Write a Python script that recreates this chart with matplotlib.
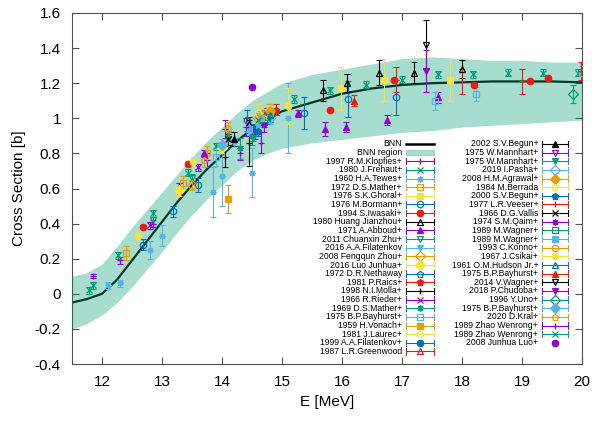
import matplotlib.pyplot as plt

plt.rcParams['font.family'] = ['Liberation Sans', 'DejaVu Sans']

# BNN evaluation and its uncertainty band
bnn_energy = [11.5, 11.75, 12.0, 12.25, 12.5, 12.75, 13.0, 13.25, 13.5, 13.75,
              14.0, 14.25, 14.5, 14.75, 15.0, 15.5, 16.0, 16.5, 17.0, 17.5,
              18.0, 18.5, 19.0, 19.5, 20.0]
bnn_sigma = [-0.05, -0.03, 0.0, 0.08, 0.19, 0.30, 0.41, 0.52, 0.62, 0.71,
             0.79, 0.87, 0.94, 0.99, 1.04, 1.09, 1.14, 1.17, 1.19, 1.20,
             1.205, 1.21, 1.21, 1.21, 1.205]
band_hi = [0.10, 0.12, 0.17, 0.27, 0.38, 0.48, 0.58, 0.68, 0.78, 0.87,
           0.95, 1.03, 1.10, 1.15, 1.20, 1.25, 1.28, 1.31, 1.34, 1.35,
           1.34, 1.33, 1.33, 1.32, 1.32]
band_lo = [-0.20, -0.17, -0.12, -0.05, 0.04, 0.14, 0.24, 0.35, 0.45, 0.54,
           0.62, 0.70, 0.76, 0.80, 0.83, 0.86, 0.88, 0.90, 0.92, 0.93,
           0.95, 0.96, 0.97, 0.98, 0.99]

labels = [
    '1997 R.M.Klopfies+', '1980 J.Frehaut+', '1960 H.A.Tewes+', '1972 D.S.Mather+',
    '1976 S.K.Ghoral+', '1976 M.Bormann+', '1994 S.Iwasaki+', '1980 Huang Jianzhou+',
    '1971 A.Abboud+', '2011 Chuanxin Zhu+', '2016 A.A.Filatenkov', '2008 Fengqun Zhou+',
    '2016 Luo Junhua+', '1972 D.R.Nethaway', '1981 P.Raics+', '1998 N.I.Molla+',
    '1966 R.Rieder+', '1969 D.S.Mather+', '1975 B.P.Bayhurst+', '1959 H.Vonach+',
    '1981 J.Laurec+', '1999 A.A.Filatenkov+', '1987 L.R.Greenwood',
    '2002 S.V.Begun+', '1975 W.Mannhart+', '1975 W.Mannhart+', '2019 I.Pasha+',
    '2008 H.M.Agrawal+', '1984 M.Berrada', '2000 S.V.Begun+', '1977 L.R.Veeser+',
    '1966 D.G.Vallis', '1974 S.M.Qaim+', '1989 M.Wagner+', '1989 M.Wagner+',
    '1993 C.Konno+', '1967 J.Csikai+', '1961 O.M.Hudson Jr.+', '1975 B.P.Bayhurst+',
    '2014 V.Wagner+', '2018 P.Chudoba+', '1996 Y.Uno+', '1975 B.P.Bayhurst+',
    '2020 D.Kral+', '1989 Zhao Wenrong+', '1989 Zhao Wenrong+', '2008 Junhua Luo+',
]

energies = [
    [11.85, 12.3, 12.85, 13.3, 13.75, 14.05, 14.3, 14.65],
    [11.78, 11.85, 12.27, 12.85, 13.43, 13.9, 14.1, 15.2, 15.8, 16.4, 17.0, 17.6,
     18.18, 18.77, 19.35, 19.93],
    [12.1, 12.3, 12.8, 13.0, 13.85, 14.0, 14.5, 15.1],
    [12.4, 13.35, 13.75, 14.7],
    [15.98, 16.7, 17.8],
    [12.68, 13.18, 13.6, 14.41, 15.37, 16.1, 16.9],
    [12.68, 13.43, 14.75, 15.8, 16.87, 18.2, 19.13, 19.43],
    [14.45, 14.8, 15.68, 16.08, 16.62, 17.2, 18.0],
    [13.28, 13.7, 15.27, 15.72, 16.07, 16.75, 17.6],
    [12.85, 13.5, 14.1],
    [14.2, 14.6],
    [13.5, 14.6],
    [13.28, 14.0, 14.8],
    [14.7],
    [14.75, 14.9],
    [14.05, 14.45],
    [12.8, 13.6, 14.7],
    [14.3, 14.5],
    [13.9, 14.8, 17.55, 18.23, 20.0],
    [14.1],
    [14.6],
    [14.5, 14.7],
    [14.75],
    [14.2],
    [14.55],
    [14.52],
    [14.8],
    [14.8],
    [14.7],
    [14.6],
    [16.9, 18.0, 19.0, 19.98],
    [14.1],
    [14.7],
    [14.75],
    [14.45, 14.65],
    [14.1, 14.65],
    [12.6, 13.52, 15.1],
    [14.8],
    [16.2],
    [17.4],
    [17.4],
    [19.85],
    [14.0],
    [13.7],
    [14.4],
    [14.6],
    [14.5],
]

sigmas = [
    [0.10, 0.19, 0.40, 0.60, 0.76, 0.94, 0.80, 0.86],
    [0.02, 0.05, 0.22, 0.46, 0.69, 0.84, 0.91, 1.11, 1.16, 1.19, 1.22, 1.25,
     1.25, 1.26, 1.26, 1.26],
    [0.05, 0.06, 0.25, 0.33, 0.58, 0.67, 0.69, 1.00],
    [0.23, 0.63, 0.80, 1.00],
    [1.17, 1.22, 1.22],
    [0.28, 0.47, 0.62, 0.99, 1.03, 1.11, 1.12],
    [0.38, 0.74, 1.00, 1.05, 1.22, 1.19, 1.21, 1.23],
    [0.97, 1.02, 1.16, 1.20, 1.26, 1.26, 1.28],
    [0.61, 0.80, 1.03, 0.94, 0.95, 0.99, 1.12],
    [0.42, 0.66, 0.88],
    [0.86, 0.95],
    [0.62, 1.00],
    [0.59, 0.83, 1.05],
    [1.01],
    [1.03, 1.05],
    [0.78, 0.86],
    [0.39, 0.72, 0.98],
    [0.83, 0.90],
    [0.78, 1.03, 1.10, 1.14, 1.26],
    [0.54],
    [1.03],
    [0.94, 0.98],
    [1.02],
    [0.88],
    [0.92],
    [0.89],
    [1.00],
    [1.04],
    [1.00],
    [0.93],
    [1.22, 1.21, 1.21, 1.27],
    [0.88],
    [0.96],
    [1.01],
    [0.94, 1.00],
    [0.94, 1.00],
    [0.33, 0.75, 1.07],
    [1.02],
    [1.10],
    [1.42],
    [1.27],
    [1.14],
    [0.85],
    [0.76],
    [0.95],
    [0.99],
    [1.18],
]

errors = [
    [0.01, 0.02, 0.02, 0.03, 0.04, 0.05, 0.04, 0.06],
    [0.02] * 16,
    [0.02, 0.02, 0.05, 0.06, 0.14, 0.17, 0.14, 0.20],
    [0.04, 0.04, 0.04, 0.05],
    [0.12, 0.12, 0.12],
    [0.03, 0.03, 0.04, 0.06, 0.09, 0.10, 0.10],
    [0.01, 0.01, 0.01, 0.01, 0.01, 0.01, 0.01, 0.01],
    [0.04, 0.04, 0.06, 0.05, 0.07, 0.06, 0.05],
    [0.02, 0.02, 0.02, 0.04, 0.03, 0.03, 0.03],
    [0.02, 0.02, 0.03],
    [0.02, 0.02],
    [0.03, 0.03],
    [0.03, 0.03, 0.03],
    [0.03],
    [0.03, 0.03],
    [0.06, 0.13],
    [0.02, 0.02, 0.02],
    [0.06, 0.05],
    [0.05, 0.05, 0.05, 0.04, 0.04],
    [0.08],
    [0.05],
    [0.03, 0.03],
    [0.04],
    [0.04],
    [0.04],
    [0.02],
    [0.03],
    [0.04],
    [0.04],
    [0.03],
    [0.07, 0.07, 0.07, 0.05],
    [0.03],
    [0.04],
    [0.04],
    [0.04, 0.04],
    [0.04, 0.04],
    [0.03, 0.03, 0.10],
    [0.04],
    [0.03],
    [0.14],
    [0.12],
    [0.05],
    [0.03],
    [0.04],
    [0.05],
    [0.03],
    [0.0],
]

x_ticks = [12, 13, 14, 15, 16, 17, 18, 19, 20]
x_tick_labels = ['12', '13', '14', '15', '16', '17', '18', '19', '20']
y_ticks = [-0.4, -0.2, 0.0, 0.2, 0.4, 0.6, 0.8, 1.0, 1.2, 1.4, 1.6]
y_tick_labels = ['-0.4', '-0.2', '0', '0.2', '0.4', '0.6', '0.8', '1', '1.2', '1.4', '1.6']

# gnuplot-like default line colours and point types
palette = ['#9400D3', '#009E73', '#56B4E9', '#E69F00', '#F0E442', '#0072B2', '#E51E10', 'black']
point_types = [('+', False), ('x', False), ((8, 2, 0), False), ('s', False), ('s', True),
               ('o', False), ('o', True), ('^', False), ('^', True), ('v', False),
               ('v', True), ('D', False), ('D', True), ('p', False), ('p', True)]

styles = []
for i in range(len(labels)):
    marker, filled = point_types[i % 15]
    styles.append((palette[i % 8], marker, filled))
styles[-3] = (palette[0], '+', False)
styles[-2] = (palette[1], 'x', False)
styles[-1] = (palette[0], 'o', True)

band_color = '#009E73'

fig = plt.figure(figsize=(5.95, 4.21), dpi=100)
ax = fig.add_axes([72 / 595, 57 / 421, 510 / 595, 351 / 421])

ax.plot(bnn_energy, bnn_sigma, color='black', lw=1.6, zorder=2)
ax.fill_between(bnn_energy, band_lo, band_hi, color=band_color, alpha=0.35, lw=0, zorder=3)

ms = 4.6
for lab, xs, ys, es, (col, mk, filled) in zip(labels, energies, sigmas, errors, styles):
    mfc = col if filled else 'none'
    ax.errorbar(xs, ys, yerr=es, fmt='none', ecolor=col, elinewidth=0.8,
                capsize=2.5, capthick=0.8, zorder=4)
    ax.plot(xs, ys, ls='none', marker=mk, color=col, mfc=mfc, mec=col,
            ms=ms, mew=0.9, zorder=5)

ax.set_xlim(11.5, 20)
ax.set_ylim(-0.4, 1.6)
ax.set_xticks(x_ticks)
ax.set_xticklabels(x_tick_labels)
ax.set_yticks(y_ticks)
ax.set_yticklabels(y_tick_labels)
ax.tick_params(direction='in', top=True, right=True, length=5, width=0.8,
               color='#505050', labelsize=11, pad=8)
for sp in ax.spines.values():
    sp.set_color('#505050')
    sp.set_linewidth(0.8)
ax.set_xlabel('E [MeV]', fontsize=11, labelpad=4)
ax.set_ylabel('Cross Section [b]', fontsize=11, labelpad=6)

# key drawn in the gnuplot way: right-aligned titles with the sample to their right
tr = ax.transAxes
row0, dy = 0.627, 0.02464
cols = [(0.647, 0.655, 0.710), (0.914, 0.922, 0.973)]
fs = 6.2
cap = 0.009


def key_entry(col_idx, row, text, kind, color=None, marker=None, filled=False):
    tx, x0, x1 = cols[col_idx]
    y = row0 - row * dy
    xc = (x0 + x1) / 2
    ax.text(tx, y, text, transform=tr, ha='right', va='center', fontsize=fs, zorder=6)
    if kind == 'line':
        ax.plot([x0, x1], [y, y], transform=tr, color='black', lw=1.8, clip_on=False, zorder=6)
    elif kind == 'band':
        ax.add_patch(plt.Rectangle((x0, y - 0.007), x1 - x0, 0.014, transform=tr,
                                   facecolor=band_color, alpha=0.35, edgecolor=band_color,
                                   lw=0.6, clip_on=False, zorder=6))
    else:
        if kind == 'err':
            ax.plot([x0, x1], [y, y], transform=tr, color=color, lw=0.8, clip_on=False, zorder=6)
            for xe in (x0, x1):
                ax.plot([xe, xe], [y - cap, y + cap], transform=tr, color=color, lw=0.8,
                        clip_on=False, zorder=6)
        ax.plot([xc], [y], transform=tr, ls='none', marker=marker, color=color,
                mfc=color if filled else 'none', mec=color, ms=ms, mew=0.9,
                clip_on=False, zorder=7)


key_entry(0, 0, 'BNN', 'line')
key_entry(0, 1, 'BNN region', 'band')
for i, (lab, (col, mk, filled)) in enumerate(zip(labels, styles)):
    if i < 23:
        c, r = 0, i + 2
    else:
        c, r = 1, i - 23
    kind = 'point' if i == len(labels) - 1 else 'err'
    key_entry(c, r, lab, kind, col, mk, filled)

fig.savefig('out.png', dpi=100)
